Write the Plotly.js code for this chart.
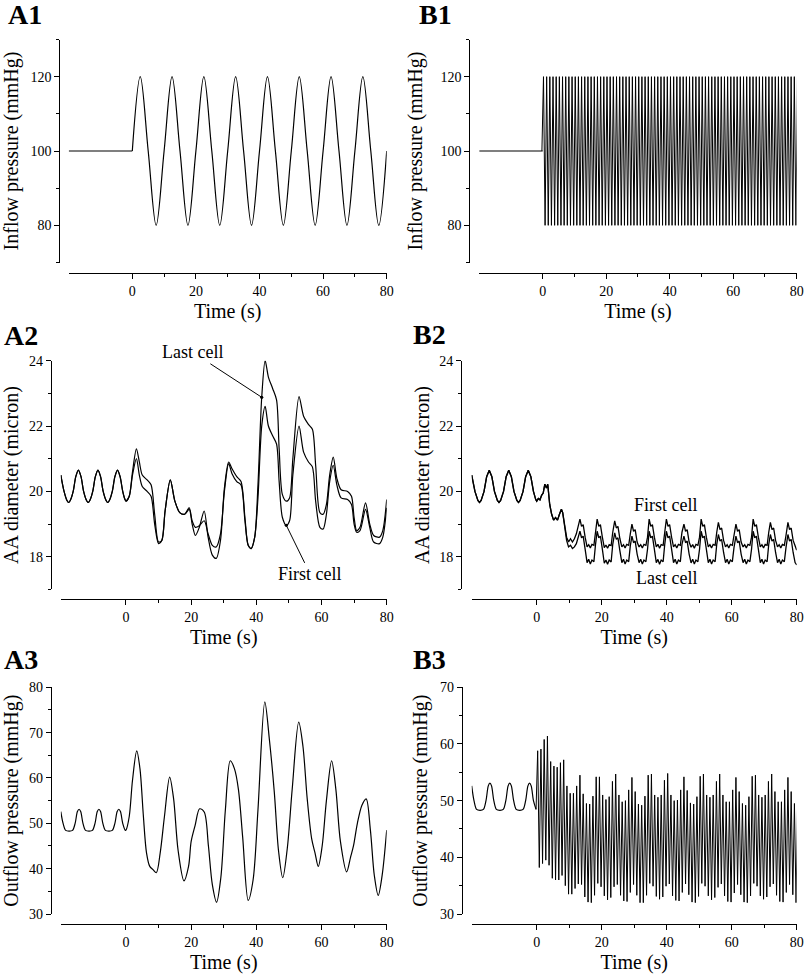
<!DOCTYPE html>
<html>
<head>
<meta charset="utf-8">
<script src="https://cdn.plot.ly/plotly-3.0.1.min.js"></script>
<style>html,body{margin:0;padding:0;background:#fff;}#chart{width:805px;height:974px;}</style>
</head>
<body>
<div id="chart"></div>
<script>
// ---------------- DATA ----------------
// Common time ticks
const xTickVals = [0, 20, 40, 60, 80];
const xMinorVals = [10, 30, 50, 70];

// Inflow pressure (A1: slow sinusoid, B1: fast sinusoid)
const inflowPreT = [-20, 0];
const inflowPreV = [100, 100];
const a1T = [0,2.5,5,7.5,10,12.5,15,17.5,20,22.5,25,27.5,30,32.5,35,37.5,40,42.5,45,47.5,50,52.5,55,57.5,60,62.5,65,67.5,70,72.5,75,77.5,80];
const a1V = [100,120,100,80,100,120,100,80,100,120,100,80,100,120,100,80,100,120,100,80,100,120,100,80,100,120,100,80,100,120,100,80,100];
// B1 extrema every half second starting at t = -0.25 s
const b1V = [100,
 120,80,120,80,120,80,120,80,120,80,120,80,120,80,120,80,120,80,120,80,
 120,80,120,80,120,80,120,80,120,80,120,80,120,80,120,80,120,80,120,80,
 120,80,120,80,120,80,120,80,120,80,120,80,120,80,120,80,120,80,120,80,
 120,80,120,80,120,80,120,80,120,80,120,80,120,80,120,80,120,80,120,80,
 120,80,120,80,120,80,120,80,120,80,120,80,120,80,120,80,120,80,120,80,
 120,80,120,80,120,80,120,80,120,80,120,80,120,80,120,80,120,80,120,80,
 120,80,120,80,120,80,120,80,120,80,120,80,120,80,120,80,120,80,120,80,
 120,80,120,80,120,80,120,80,120,80,120,80,120,80,120,80,120,80,120,80,
 120];

// AA diameter before the change (shared by A2 and B2)
const diamPreT = [-20,-19,-18.1,-17.6,-17.1,-16.2,-15.4,-14.6,-13.8,-13,-12.1,-11.6,-11.1,-10.2,-9.4,-8.6,-7.8,-7,-6.1,-5.6,-5.1,-4.2,-3.4,-2.6,-1.8,-1,-0.3];
const diamPreV = [20.5,20.0,19.72,19.66,19.72,20.0,20.45,20.65,20.45,20.0,19.72,19.66,19.72,20.0,20.45,20.65,20.45,20.0,19.72,19.66,19.72,20.0,20.45,20.65,20.45,20.0,19.75];

// A2 diameter after the change
const a2T = [0,1,2,3.2,4.1,5,6.5,7.7,8.8,10,11,12,13.6,15,16.5,18,19.4,20.3,21.3,22.5,24,25.2,26.5,27.7,29,30.2,31.5,32.5,34,35.3,36.5,37.5,38.4,39.5,40.5,41.65,42.7,43.7,45,46.2,47,48,49.2,50.2,51.2,53.1,54.5,56,57.2,58.2,59.5,60.5,61.5,62.5,63.6,64.7,66,68,69.2,70,70.8,71.8,73.5,74.8,76,77.8,78.8,80];
const a2Last = [19.7,19.85,20.6,21.3,20.9,20.5,20.35,20.2,19.3,18.45,18.5,19.4,20.35,19.7,19.35,19.3,19.45,19.0,18.65,18.9,19.4,18.6,18.05,17.95,18.5,20.1,20.9,20.7,20.45,20.3,19.2,18.35,18.25,18.6,20.2,22.88,24.0,23.5,23.15,22.8,21.3,19.9,19.7,19.8,21.0,22.9,22.3,22.05,21.9,20.8,19.35,19.3,19.6,20.5,21.05,20.4,20.05,20.0,19.85,19.2,18.8,18.9,19.65,19.0,18.65,18.6,18.8,19.75];
const a2First = [19.7,19.85,20.5,21.0,20.5,20.15,20.0,19.85,19.0,18.4,18.5,19.4,20.35,19.7,19.35,19.3,19.5,19.1,18.9,18.95,19.1,18.7,18.35,18.3,18.7,20.0,20.85,20.55,20.3,20.2,19.1,18.35,18.25,18.6,19.8,22.0,22.6,22.0,21.7,21.45,20.3,19.2,18.96,19.1,20.5,22.0,21.2,20.9,20.75,19.7,18.9,18.85,19.3,20.3,20.8,20.2,19.8,19.75,19.6,19.0,18.75,18.8,19.45,18.9,18.45,18.4,18.6,19.5];

// B2 diameter after the change
const b2T = [0,0.5,1,1.5,2,2.5,3,3.4,4,4.6,5.2,5.8,6.4,7,7.6,8,8.6,9.2,9.8,10.4,11,11.6,12.2,12.8,
 13.3,13.8,14.3,14.9,15.5,16,16.5,17,17.6,18.1,
 18.6,19.1,19.6,20.2,20.8,21.3,21.8,22.3,22.9,23.4,
 24,24.5,25,25.6,26.2,26.7,27.2,27.7,28.3,28.8,
 29.3,29.8,30.3,30.9,31.5,32,32.5,33,33.6,34.1,
 34.6,35.1,35.6,36.2,36.8,37.3,37.8,38.3,38.9,39.4,
 39.9,40.4,40.9,41.5,42.1,42.6,43.1,43.6,44.2,44.7,
 45.3,45.8,46.3,46.9,47.5,48,48.5,49,49.6,50.1,
 50.6,51.1,51.6,52.2,52.8,53.3,53.8,54.3,54.9,55.4,
 55.9,56.4,56.9,57.5,58.1,58.6,59.1,59.6,60.2,60.7,
 61.3,61.8,62.3,62.9,63.5,64,64.5,65,65.6,66.1,
 66.6,67.1,67.6,68.2,68.8,69.3,69.8,70.3,70.9,71.4,
 71.9,72.4,72.9,73.5,74.1,74.6,75.1,75.6,76.2,76.7,
 77.3,77.8,78.3,78.9,79.5,80];
const b2First = [19.7,19.78,19.74,19.88,19.95,20.22,20.1,20.22,19.6,19.3,19.12,19.2,19.12,19.3,19.45,19.35,18.9,18.6,18.45,18.55,18.45,18.55,18.7,19.0,
 19.15,18.93,18.98,18.6,18.3,18.37,18.27,18.38,18.35,18.75,
 19.15,18.93,18.98,18.6,18.28,18.36,18.26,18.37,18.34,18.75,
 19.1,18.88,18.93,18.55,18.3,18.37,18.27,18.38,18.35,18.7,
 19.0,18.78,18.83,18.45,18.3,18.37,18.27,18.38,18.35,18.6,
 19.15,18.93,18.98,18.6,18.3,18.38,18.26,18.37,18.35,18.75,
 19.15,18.93,18.98,18.6,18.3,18.37,18.27,18.38,18.35,18.75,
 19.0,18.78,18.83,18.45,18.29,18.37,18.26,18.38,18.35,18.6,
 19.15,18.93,18.98,18.6,18.3,18.37,18.27,18.38,18.35,18.75,
 19.05,18.83,18.88,18.5,18.3,18.37,18.27,18.38,18.35,18.65,
 19.0,18.78,18.83,18.45,18.3,18.37,18.27,18.38,18.35,18.6,
 19.15,18.93,18.98,18.6,18.3,18.37,18.27,18.38,18.35,18.75,
 19.05,18.83,18.88,18.5,18.3,18.37,18.27,18.38,18.35,18.65,
 19.05,18.83,18.88,18.5,18.3,18.2];
const b2Last = [19.7,19.78,19.74,19.88,19.95,20.22,20.1,20.22,19.6,19.3,19.12,19.2,19.12,19.3,19.45,19.35,18.85,18.5,18.3,18.35,18.25,18.3,18.4,18.65,
 18.78,18.58,18.63,18.23,17.82,17.92,17.78,17.9,17.85,18.38,
 18.78,18.58,18.63,18.23,17.8,17.9,17.77,17.9,17.84,18.38,
 18.73,18.53,18.58,18.18,17.82,17.92,17.78,17.9,17.85,18.33,
 18.63,18.43,18.48,18.08,17.82,17.92,17.78,17.9,17.85,18.23,
 18.78,18.58,18.63,18.23,17.82,17.92,17.77,17.9,17.85,18.38,
 18.78,18.58,18.63,18.23,17.82,17.92,17.78,17.9,17.85,18.38,
 18.63,18.43,18.48,18.08,17.81,17.92,17.78,17.9,17.85,18.23,
 18.78,18.58,18.63,18.23,17.82,17.92,17.78,17.9,17.85,18.38,
 18.68,18.48,18.53,18.13,17.82,17.92,17.78,17.9,17.85,18.28,
 18.63,18.43,18.48,18.08,17.82,17.92,17.78,17.9,17.85,18.23,
 18.78,18.58,18.63,18.23,17.82,17.92,17.78,17.9,17.85,18.38,
 18.68,18.48,18.53,18.13,17.82,17.92,17.78,17.9,17.85,18.28,
 18.68,18.48,18.53,18.13,17.82,17.75];

// Outflow pressure before the change (shared by A3 and B3)
const outPreT = [-20,-19.3,-18.5,-17.4,-16.4,-15.6,-14.9,-14.4,-13.9,-13.2,-12.4,-11.3,-10.3,-9.5,-8.8,-8.3,-7.8,-7.1,-6.3,-5.2,-4.2,-3.4,-2.7,-2.2,-1.7,-1,-0.2];
const outPreV = [52.6,50.0,48.45,48.3,48.45,50.0,52.6,53.1,52.6,50.0,48.45,48.3,48.45,50.0,52.6,53.1,52.6,50.0,48.45,48.3,48.45,50.0,52.6,53.1,52.6,50.0,48.45];

// A3 outflow pressure after the change
const a3T = [0,1,2,3.3,4.3,5.3,6.3,7.3,8.3,9.3,10.5,11.8,13.4,14.6,16,17.8,19.2,20,21.2,22.6,24,25.3,26.5,27.8,29.1,30.5,32,33.3,34.5,35.8,37.5,39,40.5,42.6,44,45.5,46.8,48.1,49.5,51,53,54.3,55.6,57,58,59,60.2,61.5,63.1,64.4,65.8,67.7,68.9,69.8,71,72.4,73.7,75,76.2,77.4,78.6,80];
const a3V = [48.5,51.5,59.5,66.0,62.0,52.0,43.5,40.5,39.8,39.1,43.5,51.5,60.2,55.5,44.0,37.3,40.5,46.0,49.5,53.2,52.5,45.0,36.5,32.6,38.0,53.0,63.8,62.0,57.5,47.0,33.0,37.5,53.0,76.8,68.5,57.0,44.0,38.0,44.5,57.5,72.3,67.0,55.5,46.5,43.5,40.5,45.0,55.0,63.8,57.5,46.0,39.3,42.5,45.0,50.0,54.0,55.4,48.5,38.5,34.1,38.5,48.5];

// B3 outflow pressure: per-second peaks (t = k + 0.3) and troughs (t = k + 0.8)
const b3Lead = [48.45];   // value at t = -0.2 s
const b3Peaks = [58.8,59.1,60.8,61.4,56.9,56.1,55.9,56.7,57.2,52.6,51.3,51.3,52.6,54.5,51.2,49.5,49.4,50.8,54.2,54.2,51.0,50.2,50.7,53.4,54.7,51.0,49.8,50.0,51.9,54.1,51.6,49.4,49.2,50.8,54.5,54.7,51.0,50.6,51.0,53.6,
 54.8,51.0,50.0,50.1,51.9,54.2,51.8,49.6,49.4,50.7,54.3,54.7,51.0,50.6,51.0,53.4,54.7,51.0,49.8,49.8,51.9,54.1,51.6,49.5,49.2,50.7,54.3,54.5,51.0,50.6,51.0,53.4,54.7,51.6,49.8,49.8,51.9,54.1,51.6,49.5];
const b3Troughs = [38.2,38.9,39.5,38.6,36.3,36.0,36.0,36.8,35.0,33.5,33.5,34.5,35.3,35.2,33.0,32.1,32.0,33.3,35.4,34.8,33.2,32.5,32.9,34.8,35.2,33.3,32.3,32.2,33.8,35.2,33.3,32.0,32.0,33.3,35.4,34.9,33.1,32.6,33.0,34.9,
 35.3,33.2,32.4,32.3,33.8,35.3,33.4,32.1,32.0,33.1,35.4,34.9,33.2,32.5,32.9,34.7,35.3,33.2,32.2,32.1,33.7,35.2,33.4,32.1,32.0,33.2,35.4,34.9,33.2,32.6,33.0,34.8,35.3,33.3,32.2,32.1,33.8,35.2,33.4,32.0];
const b3Tail = [50.5];    // value at t = 80.3 s (clipped at the axis end)

// ---------------- BUILD ----------------
const F = 'Liberation Serif';
const K = '#000';
const W = 805, H = 974;
const px = v => v / W;
const py = v => 1 - v / H;

const b3V = b3Lead.slice();
b3Peaks.forEach((p, i) => { b3V.push(p, b3Troughs[i]); });
b3Tail.forEach(v => b3V.push(v));

const line = (w) => ({color: K, width: w});
const traces = [
  {x: inflowPreT, y: inflowPreV, xaxis: 'x', yaxis: 'y', mode: 'lines', line: line(1.2)},
  {x: a1T, y: a1V, xaxis: 'x', yaxis: 'y', mode: 'lines', line: Object.assign(line(1.2), {shape: 'spline', smoothing: 1})},
  {x: inflowPreT, y: inflowPreV, xaxis: 'x2', yaxis: 'y2', mode: 'lines', line: line(1.2)},
  {x0: -0.25, dx: 0.5, y: b1V, xaxis: 'x2', yaxis: 'y2', mode: 'lines', line: line(1)},
  {x: diamPreT.concat(a2T), y: diamPreV.concat(a2Last), xaxis: 'x3', yaxis: 'y3', mode: 'lines', name: 'Last cell', line: Object.assign(line(1.2), {shape: 'spline', smoothing: 0.8})},
  {x: diamPreT.concat(a2T), y: diamPreV.concat(a2First), xaxis: 'x3', yaxis: 'y3', mode: 'lines', name: 'First cell', line: Object.assign(line(1.2), {shape: 'spline', smoothing: 0.8})},
  {x: diamPreT.concat(b2T), y: diamPreV.concat(b2First), xaxis: 'x4', yaxis: 'y4', mode: 'lines', name: 'First cell', line: line(1.3)},
  {x: diamPreT.concat(b2T), y: diamPreV.concat(b2Last), xaxis: 'x4', yaxis: 'y4', mode: 'lines', name: 'Last cell', line: line(1.3)},
  {x: outPreT.concat(a3T), y: outPreV.concat(a3V), xaxis: 'x5', yaxis: 'y5', mode: 'lines', line: Object.assign(line(1.2), {shape: 'spline', smoothing: 0.9})},
  {x: outPreT, y: outPreV, xaxis: 'x6', yaxis: 'y6', mode: 'lines', line: Object.assign(line(1.2), {shape: 'spline', smoothing: 0.9})},
  {x0: -0.2, dx: 0.5, y: b3V, xaxis: 'x6', yaxis: 'y6', mode: 'lines', line: line(1)}
];

function xAxis(l, r, yLine) {
  return {
    domain: [px(l), px(r)], anchor: 'free', position: py(yLine),
    range: [-20, 80], showline: true, linecolor: K, linewidth: 1,
    showgrid: false, zeroline: false,
    ticks: 'outside', ticklen: 5, tickwidth: 1, tickcolor: K,
    tickmode: 'array', tickvals: xTickVals,
    minor: {tickmode: 'array', tickvals: xMinorVals, ticks: 'outside', ticklen: 3, tickwidth: 1, tickcolor: K},
    tickfont: {family: F, size: 14, color: K},
    title: {text: 'Time (s)', font: {family: F, size: 20, color: K}, standoff: 6}
  };
}
function yAxis(top, bot, xLine, range, dtick, mdtick, title, standoff) {
  return {
    domain: [py(bot), py(top)], anchor: 'free', position: px(xLine),
    range: range, showline: true, linecolor: K, linewidth: 1,
    showgrid: false, zeroline: false,
    ticks: 'outside', ticklen: 5, tickwidth: 1, tickcolor: K,
    tick0: 0, dtick: dtick,
    minor: {tick0: 0, dtick: mdtick, ticks: 'outside', ticklen: 3, tickwidth: 1, tickcolor: K},
    tickfont: {family: F, size: 14, color: K},
    title: {text: title, font: {family: F, size: 20, color: K}, standoff: standoff}
  };
}

const panelLabel = (txt, x, y) => ({
  text: '<b>' + txt + '</b>', xref: 'paper', yref: 'paper', x: px(x), y: py(y),
  xanchor: 'left', yanchor: 'middle', showarrow: false,
  font: {family: F, size: 28, color: K}
});
const note = (txt, extra) => Object.assign({text: txt, font: {family: F, size: 18, color: K}}, extra);

const layout = {
  width: W, height: H, margin: {l: 0, r: 0, t: 0, b: 0},
  paper_bgcolor: '#fff', plot_bgcolor: 'rgba(0,0,0,0)', showlegend: false,
  xaxis:  xAxis(68.7, 386.7, 273),
  yaxis:  yAxis(39.5, 262.5, 59.3, [70, 130], 20, 10, 'Inflow pressure (mmHg)', 11),
  xaxis2: xAxis(479.2, 796.7, 273),
  yaxis2: yAxis(39.5, 262.5, 469.3, [70, 130], 20, 10, 'Inflow pressure (mmHg)', 11),
  xaxis3: xAxis(60.8, 386.7, 599),
  yaxis3: yAxis(360.7, 589.4, 50.7, [17, 24], 2, 1, 'AA diameter (micron)', 5),
  xaxis4: xAxis(471.7, 796.7, 599),
  yaxis4: yAxis(360.7, 589.4, 461, [17, 24], 2, 1, 'AA diameter (micron)', 3),
  xaxis5: xAxis(60.8, 386.7, 924.3),
  yaxis5: yAxis(687.3, 914, 50.7, [30, 80], 10, 5, 'Outflow pressure (mmHg)', 13),
  xaxis6: xAxis(471.7, 796.7, 924.3),
  yaxis6: yAxis(687.3, 914, 461.7, [30, 70], 10, 5, 'Outflow pressure (mmHg)', 5),
  annotations: [
    panelLabel('A1', 6, 14), panelLabel('B1', 417, 14),
    panelLabel('A2', 2, 335), panelLabel('B2', 411, 334),
    panelLabel('A3', 2, 659), panelLabel('B3', 411, 659),
    note('Last cell', {xref: 'x3', yref: 'y3', x: 41.65, y: 22.88, ax: -69, ay: -45,
      showarrow: true, arrowhead: 6, arrowsize: 0.8, arrowwidth: 1, arrowcolor: K, standoff: 0}),
    note('First cell', {xref: 'x3', yref: 'y3', x: 49.2, y: 18.96, ax: 24, ay: 49,
      showarrow: true, arrowhead: 6, arrowsize: 0.8, arrowwidth: 1, arrowcolor: K, standoff: 0}),
    note('First cell', {xref: 'x4', yref: 'y4', x: 39.8, y: 19.58, showarrow: false}),
    note('Last cell', {xref: 'x4', yref: 'y4', x: 39.8, y: 17.35, showarrow: false})
  ]
};

Plotly.newPlot('chart', traces, layout, {staticPlot: true, displayModeBar: false});
</script>
</body>
</html>
